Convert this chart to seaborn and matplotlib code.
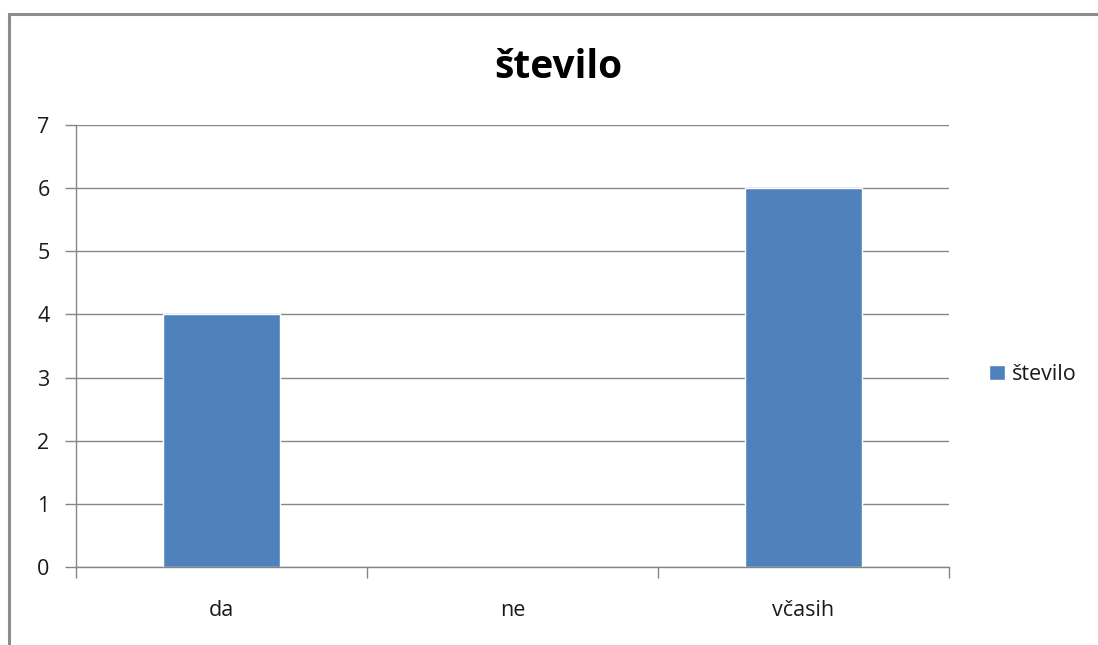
import matplotlib
matplotlib.use("Agg")
import matplotlib.pyplot as plt
from matplotlib.patches import Rectangle
import seaborn as sns
import pandas as pd

categories = ["da", "ne", "včasih"]
values = [4, 0, 6]
series_name = "število"
y_ticks = [0, 1, 2, 3, 4, 5, 6, 7]

sns.set_style("white")
plt.rcParams["font.family"] = ["Open Sans", "DejaVu Sans"]

bar_color = "#4F81BD"
grid_color = "#868686"
text_color = "#1a1a1a"
label_size = 15.5

df = pd.DataFrame({"kategorija": categories, "vrednost": values})

fig = plt.figure(figsize=(10.98, 6.45), dpi=100)
ax = fig.add_axes([76 / 1098, 1 - 567 / 645, (949 - 76) / 1098, (567 - 125) / 645])

sns.barplot(data=df, x="kategorija", y="vrednost", color=bar_color,
            width=0.4, saturation=1, ax=ax, label=series_name)

ax.set_xlim(-0.5, 2.5)
ax.set_ylim(0, 7)
ax.set_yticks(y_ticks)
ax.set_xlabel("")
ax.set_ylabel("")
ax.yaxis.grid(True, color=grid_color, linewidth=1)
ax.set_axisbelow(True)

for side in ["top", "right"]:
    ax.spines[side].set_visible(False)
for side in ["left", "bottom"]:
    ax.spines[side].set_color(grid_color)
    ax.spines[side].set_linewidth(1)

ax.tick_params(axis="y", length=8, width=1, color=grid_color, labelsize=label_size,
               labelcolor=text_color, pad=11, left=True)
# category boundary ticks on the x axis
ax.set_xticks([-0.5, 0.5, 1.5, 2.5], minor=True)
ax.tick_params(axis="x", which="minor", length=8, width=1, color=grid_color, bottom=True)
ax.tick_params(axis="x", which="major", length=0, labelsize=label_size,
               labelcolor=text_color, pad=24)

leg = ax.legend(loc="center left", bbox_to_anchor=(1.034, 0.435), frameon=False,
                fontsize=label_size, handlelength=0.7, handleheight=0.7,
                handletextpad=0.35, borderpad=0)
for t in leg.get_texts():
    t.set_color(text_color)

fig.text(558 / 1098, 1 - 68 / 645, series_name, ha="center", va="center",
         fontsize=28, fontweight="bold", color="#000000")

# chart-area frame (open on the right and bottom edges)
fig.patches.append(Rectangle((8.5 / 1098, -0.05), 1.2, 1 - 13.5 / 645 + 0.05,
                             transform=fig.transFigure, fill=False,
                             edgecolor="#8C8C8C", linewidth=2.2))

fig.savefig("out.png", dpi=100)
